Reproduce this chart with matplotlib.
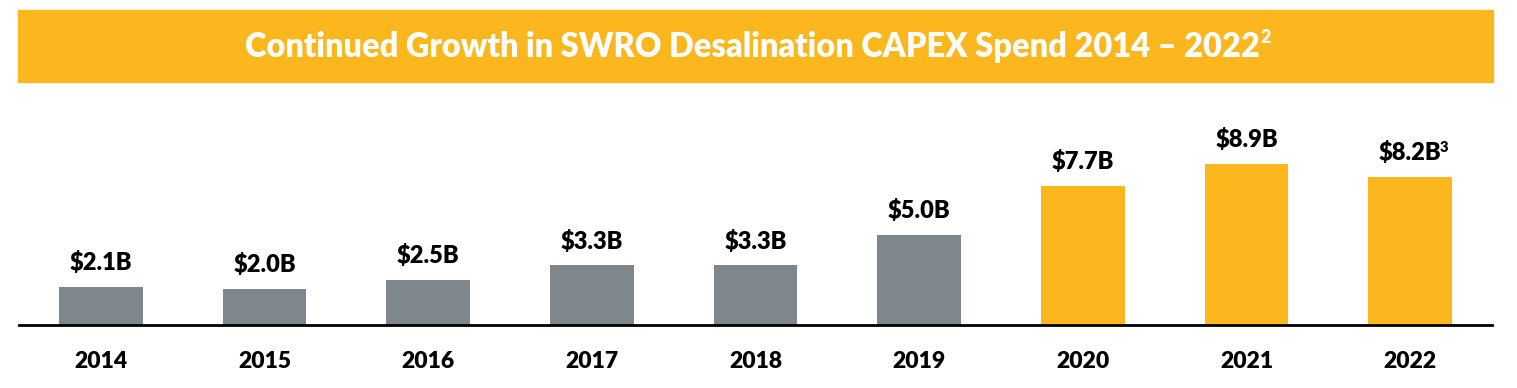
import matplotlib
matplotlib.use("Agg")
import matplotlib.pyplot as plt
from matplotlib.patches import Rectangle

years = ["2014", "2015", "2016", "2017", "2018", "2019", "2020", "2021", "2022"]
capex = [2.1, 2.0, 2.5, 3.3, 3.3, 5.0, 7.7, 8.9, 8.2]
labels = ["$2.1B", "$2.0B", "$2.5B", "$3.3B", "$3.3B", "$5.0B", "$7.7B", "$8.9B", "$8.2B"]
notes = ["", "", "", "", "", "", "", "", "3"]
title = "Continued Growth in SWRO Desalination CAPEX Spend 2014 \u2013 2022"
title_note = "2"

GRAY = "#7E878B"
ORANGE = "#FDB71E"
colors = [GRAY] * 6 + [ORANGE] * 3

plt.rcParams["font.family"] = ["Lato", "DejaVu Sans"]

W, H = 1517, 388
fig = plt.figure(figsize=(W / 100, H / 100), dpi=100)

# title banner (below everything else)
fig.patches.append(Rectangle((18 / W, 1 - 82 / H), (1493 - 18) / W, 72 / H,
                             transform=fig.transFigure, color=ORANGE, zorder=-5))
t = fig.text(752 / W, 1 - 47 / H, title, color="white", fontsize=23.5, fontweight="heavy",
             ha="center", va="center")

ax = fig.add_axes([19 / W, 1 - 325 / H, (1492 - 19) / W, (325 - 110) / H])
ax.annotate(title_note, xy=(1, 0.8), xycoords=t, xytext=(0.5, 0), textcoords="offset points",
            ha="left", va="center", color="white", fontsize=13, fontweight="heavy",
            annotation_clip=False)

x = range(len(years))
ax.bar(x, capex, width=0.51, color=colors)
ax.set_xlim(-0.5, 8.5)
ax.set_ylim(0, 11.88)
for s in ["top", "right", "left"]:
    ax.spines[s].set_visible(False)
ax.spines["bottom"].set_linewidth(2)
ax.set_yticks([])
ax.set_xticks(list(x))
ax.set_xticklabels(years, fontsize=16.5, fontweight="heavy")
ax.tick_params(axis="x", length=0, pad=19)

for i, (v, lab, note) in enumerate(zip(capex, labels, notes)):
    a = ax.annotate(lab, (i, v), xytext=(0, 9), textcoords="offset points",
                    ha="center", va="bottom", fontsize=17, fontweight="heavy")
    if note:
        ax.annotate(note, xy=(1, 0.74), xycoords=a, xytext=(-1.5, 0),
                    textcoords="offset points", ha="left", va="center",
                    fontsize=10.5, fontweight="heavy", annotation_clip=False)

fig.savefig("out.png", dpi=100)
